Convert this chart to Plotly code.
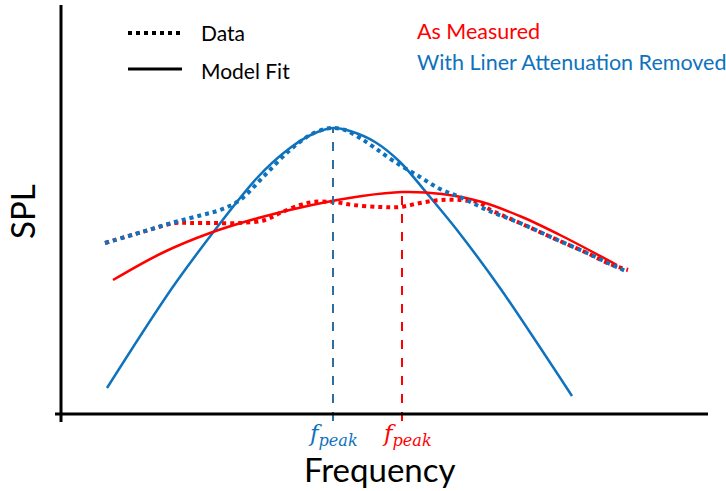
import plotly.graph_objects as go

# Coordinates: frequency (arbitrary units) and SPL (arbitrary units), origin at axes crossing
# Blue: With Liner Attenuation Removed
blue_data_x = [43, 80, 113, 140, 158, 178, 203, 228, 248, 263, 271, 283, 298, 313, 333, 358, 378, 398, 425, 458, 491, 525, 548, 566]
blue_data_y = [170, 181, 191, 198, 203, 213, 238, 263, 278, 284, 285, 283, 275, 265, 251, 236, 224, 216, 203, 190, 175, 160, 149, 141]

blue_fit_x = [45, 115, 195, 228, 253, 271, 288, 313, 338, 368, 395, 438, 510]
blue_fit_y = [25, 132, 235, 265, 280, 285, 282, 271, 251, 216, 183, 125, 17]

# Red: As Measured
red_data_x = [43, 80, 113, 128, 150, 178, 203, 218, 238, 251, 271, 291, 318, 338, 358, 378, 398, 418, 425, 458, 491, 525, 548, 566]
red_data_y = [170, 181, 190, 190, 190, 190, 193, 200, 208, 211, 211, 208, 206, 206, 210, 213, 213, 210, 205, 190, 175, 160, 149, 143]

red_fit_x = [51, 100, 148, 200, 250, 300, 340, 380, 420, 460, 500, 555]
red_fit_y = [133, 160, 180, 196, 208, 217, 221, 219, 211, 196, 177, 148]

peak_blue_x = 271
peak_blue_y = 285
peak_red_x = 340
peak_red_y = 221

BLUE = "#0E72BD"
RED = "#FF0000"
BLUE_DASH = "#2E6E9E"

fig = go.Figure()

fig.add_trace(go.Scatter(x=blue_fit_x, y=blue_fit_y, mode="lines",
                         line=dict(color=BLUE, width=2.5, shape="spline", smoothing=0.8), showlegend=False))
fig.add_trace(go.Scatter(x=red_fit_x, y=red_fit_y, mode="lines",
                         line=dict(color=RED, width=2.5, shape="spline"), showlegend=False))
fig.add_trace(go.Scatter(x=red_data_x, y=red_data_y, mode="lines",
                         line=dict(color=RED, width=4, dash="dot", shape="spline"), showlegend=False))
fig.add_trace(go.Scatter(x=blue_data_x, y=blue_data_y, mode="lines",
                         line=dict(color=BLUE, width=4, dash="dot", shape="spline"), showlegend=False))

# peak markers
fig.add_trace(go.Scatter(x=[peak_blue_x, peak_blue_x], y=[-8, peak_blue_y], mode="lines",
                         line=dict(color=BLUE_DASH, width=2, dash="dash"), showlegend=False))
fig.add_trace(go.Scatter(x=[peak_red_x, peak_red_x], y=[-8, peak_red_y], mode="lines",
                         line=dict(color=RED, width=2, dash="dash"), showlegend=False))

# axes lines
fig.add_shape(type="line", x0=-1, x1=-1, y0=-9, y1=408, line=dict(color="black", width=3))
fig.add_shape(type="line", x0=-7, x1=646, y0=-1, y1=-1, line=dict(color="black", width=3))

# legend (manual)
fig.add_trace(go.Scatter(x=[66, 118], y=[380, 380], mode="lines",
                         line=dict(color="black", width=4, dash="dot"), showlegend=False))
fig.add_trace(go.Scatter(x=[66, 120], y=[344, 344], mode="lines",
                         line=dict(color="black", width=3), showlegend=False))

FONT = "Lato"
annos = [
    dict(x=137, y=381, text="Data", color="black", size=21, xanchor="left"),
    dict(x=137, y=343, text="Model Fit", color="black", size=21, xanchor="left"),
    dict(x=353, y=382, text="As Measured", color=RED, size=21.5, xanchor="left"),
    dict(x=353, y=351, text="With Liner Attenuation Removed", color=BLUE, size=21.5, xanchor="left"),
]
for a in annos:
    fig.add_annotation(x=a["x"], y=a["y"], text=a["text"], showarrow=False, xanchor=a["xanchor"],
                       yanchor="middle", font=dict(family=FONT, size=a["size"], color=a["color"]))

for px, col in [(peak_blue_x, BLUE), (peak_red_x + 5, RED)]:
    fig.add_annotation(x=px, y=-22, text="<i>f</i><sub><i>peak</i></sub>", showarrow=False,
                       xanchor="center", yanchor="middle",
                       font=dict(family="DejaVu Serif", size=23, color=col))

fig.add_annotation(x=318, y=-56, text="Frequency", showarrow=False, xanchor="center", yanchor="middle",
                   font=dict(family=FONT, size=33, color="black"))
fig.add_annotation(x=-40, y=201, text="SPL", showarrow=False, xanchor="center", yanchor="middle",
                   textangle=-90, font=dict(family=FONT, size=33, color="black"))

fig.update_layout(
    width=726, height=491,
    margin=dict(l=0, r=0, t=0, b=0),
    paper_bgcolor="white", plot_bgcolor="white",
    xaxis=dict(range=[-62, 664], visible=False, fixedrange=True),
    yaxis=dict(range=[-78, 413], visible=False, fixedrange=True),
    showlegend=False,
)

fig.write_html("out.html", config={"displayModeBar": False, "staticPlot": True},
               post_script="document.body.style.margin='0';")
